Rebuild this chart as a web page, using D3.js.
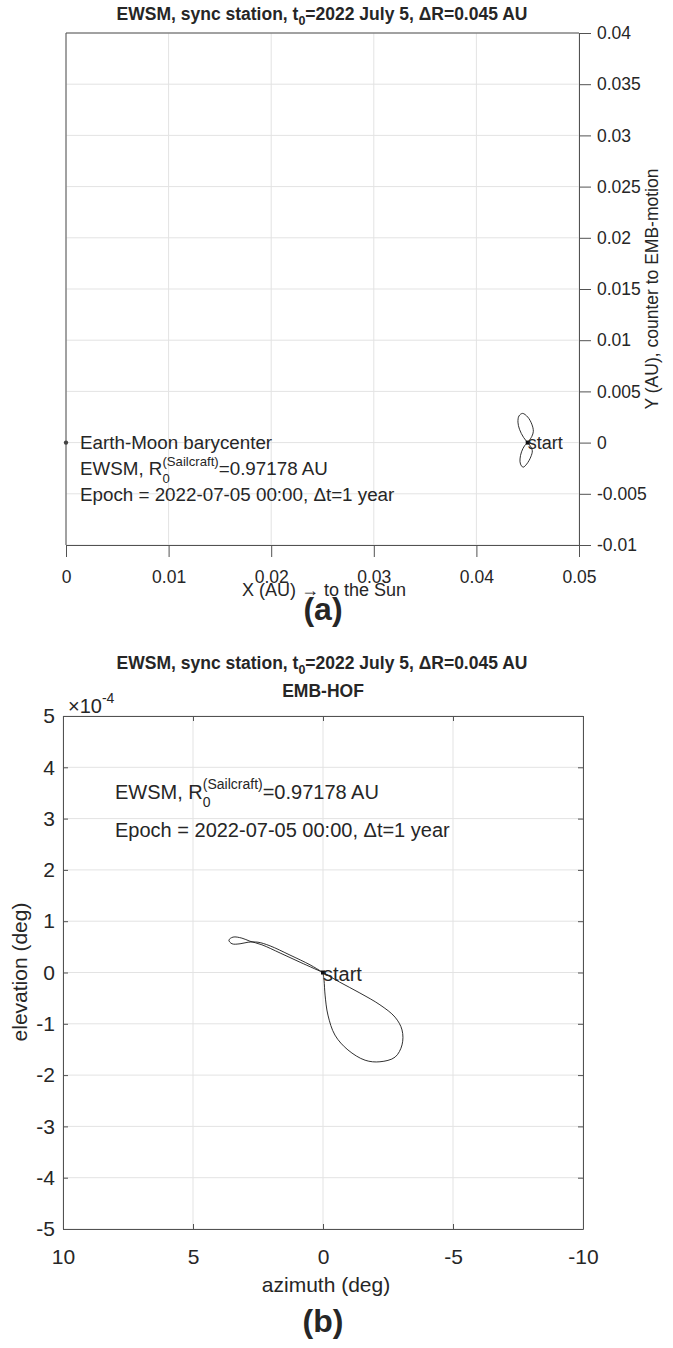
<!DOCTYPE html>
<html>
<head>
<meta charset="utf-8">
<script src="https://cdn.jsdelivr.net/npm/d3@7"></script>
<style>
  body { margin: 0; background: #fff; }
  svg { display: block; }
  text { font-family: "Liberation Sans", Arial, sans-serif; fill: #262626; }
</style>
</head>
<body>
<script>
// panel (a): station path in the EMB frame, AU
var xTicksA = [0, 0.01, 0.02, 0.03, 0.04, 0.05];
var yTicksA = [-0.01, -0.005, 0, 0.005, 0.01, 0.015, 0.02, 0.025, 0.03, 0.035, 0.04];
var orbitXA = [0.0450, 0.0454, 0.04555, 0.0454, 0.0450, 0.0445, 0.04415, 0.04405, 0.0442, 0.0446, 0.0450,
               0.0453, 0.04545, 0.0453, 0.0449, 0.04455, 0.0443, 0.04425, 0.0444, 0.0447, 0.0450];
var orbitYA = [0, 0.0006, 0.0011, 0.0018, 0.0025, 0.00285, 0.0026, 0.0020, 0.0013, 0.0005, 0,
               -0.0004, -0.0008, -0.0014, -0.0021, -0.0024, -0.0021, -0.0016, -0.0009, -0.0003, 0];

// panel (b): azimuth (deg) / elevation (1e-4 deg)
var xTicksB = [10, 5, 0, -5, -10];
var yTicksB = [-5, -4, -3, -2, -1, 0, 1, 2, 3, 4, 5];
var azB = [0, 0.88, 1.65, 2.35, 2.81, 3.12, 3.46, 3.62, 3.50, 3.19, 2.88, 2.50, 2.04, 1.27, 0.50, 0,
           -0.65, -1.42, -2.19, -2.77, -3.04, -3.04, -2.77, -2.19, -1.62, -0.96, -0.46, -0.19, -0.08, -0.04, 0];
var elB = [0, 0.20, 0.38, 0.54, 0.61, 0.67, 0.69, 0.63, 0.56, 0.56, 0.59, 0.59, 0.52, 0.34, 0.15, 0,
           -0.19, -0.40, -0.63, -0.87, -1.12, -1.41, -1.65, -1.74, -1.71, -1.51, -1.22, -0.83, -0.44, -0.15, 0];

var W = 673, H = 1348;

var svg = d3.select("body").append("svg")
  .attr("width", W)
  .attr("height", H);

// rich text: parts are [str, "n"|"sub"|"sup"], sub and sup stack over each other
function richText(x, y, parts, size) {
  var g = svg.append("g").attr("transform", "translate(" + x + "," + y + ")");
  var cx = 0, stackW = 0;
  parts.forEach(function(p) {
    var t = g.append("text").text(p[0]).attr("font-size", p[1] == "n" ? size : size * 0.7);
    if (p[1] == "n") {
      cx += stackW; stackW = 0;
      t.attr("x", cx).attr("y", 0);
      cx += t.node().getComputedTextLength();
    } else {
      t.attr("x", cx).attr("y", p[1] == "sub" ? size * 0.42 : -size * 0.48);
      stackW = Math.max(stackW, t.node().getComputedTextLength());
    }
  });
  return g;
}

function title(cx, y) {
  var t = svg.append("text")
    .attr("x", cx).attr("y", y)
    .attr("text-anchor", "middle")
    .attr("font-weight", "bold")
    .attr("font-size", 17.5)
    .attr("fill", "#000");
  t.append("tspan").text("EWSM, sync station, t");
  t.append("tspan").text("0").attr("font-size", 12.5).attr("dy", 5);
  t.append("tspan").text("=2022 July 5, \u0394R=0.045 AU").attr("dy", -5);
}

function caption(cx, y, s) {
  svg.append("text").attr("x", cx).attr("y", y)
    .attr("text-anchor", "middle")
    .attr("font-family", "Liberation Serif, serif")
    .attr("font-weight", "bold")
    .attr("font-size", 32)
    .attr("fill", "#000")
    .text(s);
}

function styleAxis(size) {
  return function(g) {
    g.select(".domain").attr("stroke", "#525252");
    g.selectAll(".tick line").attr("stroke", "#525252");
    g.selectAll(".tick text").attr("font-size", size).attr("fill", "#262626")
      .attr("font-family", "Liberation Sans, Arial, sans-serif");
  };
}

function fmt(d) { return String(d); }

// ---------------- panel (a) ----------------
var xA = d3.scaleLinear().domain([0, 0.05]).range([66, 579]);
var yA = d3.scaleLinear().domain([-0.01, 0.04]).range([545, 33]);

title(322, 20);

var gridA = svg.append("g").attr("stroke", "#e3e3e3").attr("stroke-width", 1);
gridA.selectAll(".gx").data(xTicksA).enter().append("line")
  .attr("x1", function(d) { return xA(d); }).attr("x2", function(d) { return xA(d); })
  .attr("y1", yA(-0.01)).attr("y2", yA(0.04));
gridA.selectAll(".gy").data(yTicksA).enter().append("line")
  .attr("x1", xA(0)).attr("x2", xA(0.05))
  .attr("y1", function(d) { return yA(d); }).attr("y2", function(d) { return yA(d); });

// box lines (top and left, no ticks)
svg.append("line").attr("x1", xA(0)).attr("x2", xA(0.05)).attr("y1", yA(0.04)).attr("y2", yA(0.04)).attr("stroke", "#525252");
svg.append("line").attr("x1", xA(0)).attr("x2", xA(0)).attr("y1", yA(0.04)).attr("y2", yA(-0.01)).attr("stroke", "#525252");

svg.append("g").attr("transform", "translate(0," + yA(-0.01) + ")")
  .call(d3.axisBottom(xA).tickValues(xTicksA).tickSize(12).tickSizeOuter(0).tickPadding(14).tickFormat(fmt))
  .call(styleAxis(17.5));
svg.append("g").attr("transform", "translate(" + xA(0.05) + ",0)")
  .call(d3.axisRight(yA).tickValues(yTicksA).tickSize(12).tickSizeOuter(0).tickPadding(6).tickFormat(fmt))
  .call(styleAxis(17.5));

svg.append("text").attr("x", 324).attr("y", 596).attr("text-anchor", "middle")
  .attr("font-size", 18).text("X  (AU) \u2192 to the Sun");
svg.append("text").attr("transform", "translate(658,289) rotate(-90)")
  .attr("text-anchor", "middle").attr("font-size", 17.5)
  .text("Y (AU), counter to EMB-motion");

var lineA = d3.line()
  .x(function(d, i) { return xA(orbitXA[i]); })
  .y(function(d, i) { return yA(orbitYA[i]); })
  .curve(d3.curveCatmullRom.alpha(0.5));
svg.append("path").datum(orbitXA).attr("d", lineA)
  .attr("fill", "none").attr("stroke", "#1a1a1a").attr("stroke-width", 0.9);

svg.append("circle").attr("cx", xA(0)).attr("cy", yA(0)).attr("r", 2.2).attr("fill", "#444");
svg.append("rect").attr("x", xA(0.045) - 2).attr("y", yA(0) - 2).attr("width", 4).attr("height", 4).attr("fill", "#111");
richText(xA(0.045), yA(0) + 6, [["start", "n"]], 18);

richText(80, 449, [["Earth-Moon barycenter", "n"]], 18.8);
richText(80, 475, [["EWSM,  R", "n"], ["0", "sub"], ["(Sailcraft)", "sup"], ["=0.97178 AU", "n"]], 18.8);
richText(80, 501, [["Epoch = 2022-07-05 00:00, \u0394t=1 year", "n"]], 18.8);

caption(323, 620, "(a)");

// ---------------- panel (b) ----------------
var xB = d3.scaleLinear().domain([10, -10]).range([63, 583]);
var yB = d3.scaleLinear().domain([-5, 5]).range([1229, 716]);

title(322, 669);
svg.append("text").attr("x", 323).attr("y", 697).attr("text-anchor", "middle")
  .attr("font-weight", "bold").attr("font-size", 17.5).attr("fill", "#000").text("EMB-HOF");

var gridB = svg.append("g").attr("stroke", "#e3e3e3").attr("stroke-width", 1);
gridB.selectAll(".gx").data(xTicksB).enter().append("line")
  .attr("x1", function(d) { return xB(d); }).attr("x2", function(d) { return xB(d); })
  .attr("y1", yB(-5)).attr("y2", yB(5));
gridB.selectAll(".gy").data(yTicksB).enter().append("line")
  .attr("x1", xB(10)).attr("x2", xB(-10))
  .attr("y1", function(d) { return yB(d); }).attr("y2", function(d) { return yB(d); });

svg.append("g").attr("transform", "translate(0," + yB(-5) + ")")
  .call(d3.axisBottom(xB).tickValues(xTicksB).tickSize(-5).tickSizeOuter(0).tickPadding(20).tickFormat(fmt))
  .call(styleAxis(21));
svg.append("g").attr("transform", "translate(" + xB(10) + ",0)")
  .call(d3.axisLeft(yB).tickValues(yTicksB).tickSize(-5).tickSizeOuter(0).tickPadding(8).tickFormat(fmt))
  .call(styleAxis(21));
svg.append("g").attr("transform", "translate(0," + yB(5) + ")")
  .call(d3.axisTop(xB).tickValues(xTicksB).tickSize(-5).tickSizeOuter(0).tickFormat(""))
  .call(styleAxis(21));
svg.append("g").attr("transform", "translate(" + xB(-10) + ",0)")
  .call(d3.axisRight(yB).tickValues(yTicksB).tickSize(-5).tickSizeOuter(0).tickFormat(""))
  .call(styleAxis(21));

richText(68, 713, [["\u00d710", "n"], ["-4", "sup"]], 20);

svg.append("text").attr("x", 326).attr("y", 1292).attr("text-anchor", "middle")
  .attr("font-size", 21).text("azimuth (deg)");
svg.append("text").attr("transform", "translate(27,972) rotate(-90)")
  .attr("text-anchor", "middle").attr("font-size", 21)
  .text("elevation (deg)");

var lineB = d3.line()
  .x(function(d, i) { return xB(azB[i]); })
  .y(function(d, i) { return yB(elB[i]); })
  .curve(d3.curveCatmullRom.alpha(0.5));
svg.append("path").datum(azB).attr("d", lineB)
  .attr("fill", "none").attr("stroke", "#1a1a1a").attr("stroke-width", 0.9);
svg.append("rect").attr("x", xB(0) - 2).attr("y", yB(0) - 2).attr("width", 4).attr("height", 4).attr("fill", "#111");
richText(xB(0), yB(0) + 8, [["start", "n"]], 20);

richText(115, 799, [["EWSM,  R", "n"], ["0", "sub"], ["(Sailcraft)", "sup"], ["=0.97178 AU", "n"]], 20);
richText(115, 837, [["Epoch = 2022-07-05 00:00, \u0394t=1 year", "n"]], 20);

caption(323, 1332, "(b)");
</script>
</body>
</html>
